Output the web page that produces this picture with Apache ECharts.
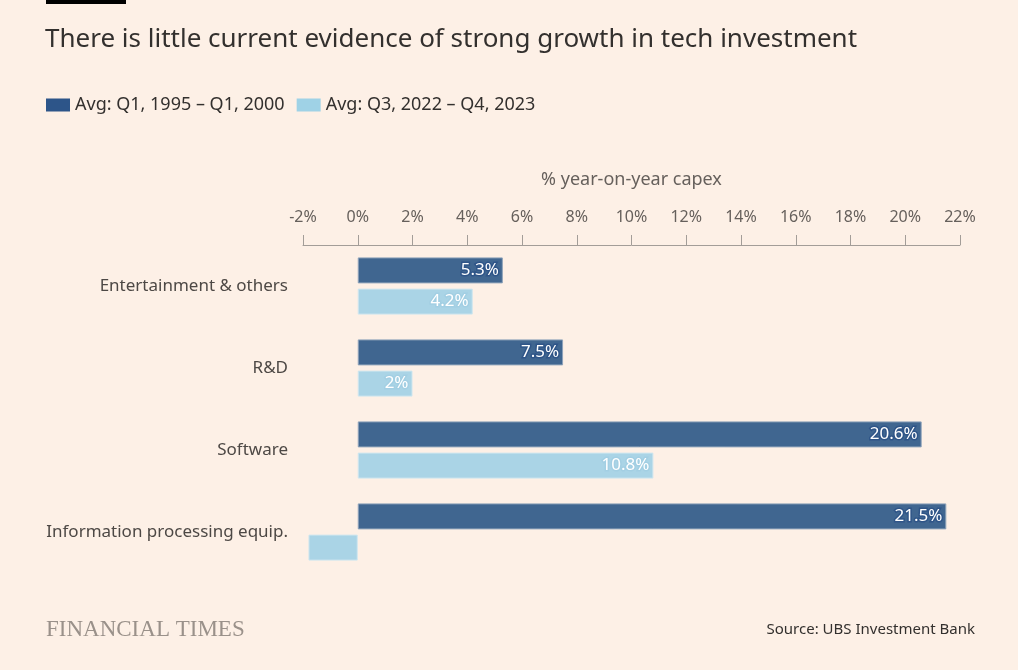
<!DOCTYPE html>
<html>
<head>
<meta charset="utf-8">
<script src="https://cdn.jsdelivr.net/npm/echarts@6/dist/echarts.min.js"></script>
<style>
html,body{margin:0;padding:0;background:#fdf0e6;}
#c{width:1018px;height:670px;}
</style>
</head>
<body>
<div id="c"></div>
<script>
const categories = ['Entertainment & others', 'R&D', 'Software', 'Information processing equip.'];
const seriesNames = ['Avg: Q1, 1995 – Q1, 2000', 'Avg: Q3, 2022 – Q4, 2023'];
const avg1995 = [5.3, 7.5, 20.6, 21.5];
const avg2022 = [4.2, 2, 10.8, -1.8];
const tickMin = -2, tickMax = 22, tickStep = 2;

const FONT = '"Noto Sans", "Open Sans", sans-serif';
const chart = echarts.init(document.getElementById('c'));

function labelCfg(halo, showFn) {
  return {
    show: true,
    position: 'insideRight',
    distance: 4,
    color: '#ffffff',
    fontFamily: FONT,
    fontSize: 17,
    textBorderColor: halo,
    textBorderWidth: 3,
    formatter: p => (showFn(p.value) ? p.value + '%' : '')
  };
}

chart.setOption({
  backgroundColor: '#fdf0e6',
  animation: false,
  title: {
    text: 'There is little current evidence of strong growth in tech investment',
    left: 45, top: 27, padding: 0,
    textStyle: { fontFamily: FONT, fontSize: 26, fontWeight: 'normal', color: '#33302e' }
  },
  legend: {
    left: 46, top: 96, padding: 0,
    itemWidth: 24, itemHeight: 13, itemGap: 12,
    icon: 'rect',
    itemStyle: { borderWidth: 0 },
    textStyle: { fontFamily: FONT, fontSize: 18, color: '#33302e' },
    data: [
      { name: seriesNames[0], itemStyle: { color: '#2d5589', borderWidth: 0 } },
      { name: seriesNames[1], itemStyle: { color: '#9fd2e6', borderWidth: 0 } }
    ]
  },
  graphic: [
    { type: 'rect', left: 46, top: 0, shape: { width: 80, height: 4 }, style: { fill: '#000' } },
    { type: 'text', left: 46, top: 618, style: { text: 'FINANCIAL TIMES', font: '23px "Liberation Serif", serif', fill: '#9a918a' } },
    { type: 'text', right: 43, top: 622, style: { text: 'Source: UBS Investment Bank', font: '15px ' + FONT, fill: '#33302e' } }
  ],
  grid: { left: 303, right: 58, top: 245, height: 328, containLabel: false },
  xAxis: {
    type: 'value',
    position: 'top',
    min: tickMin, max: tickMax, interval: tickStep,
    name: '% year-on-year capex',
    nameLocation: 'middle',
    nameGap: 56,
    nameTextStyle: { fontFamily: FONT, fontSize: 18, color: '#66605c' },
    axisLine: { show: true, lineStyle: { color: '#a39d98', width: 1 } },
    axisTick: { show: true, length: 10, lineStyle: { color: '#a39d98' } },
    axisLabel: { fontFamily: FONT, fontSize: 16, color: '#66605c', margin: 20, formatter: v => v + '%' },
    splitLine: { show: false }
  },
  yAxis: {
    type: 'category',
    data: categories,
    inverse: true,
    axisLine: { show: false },
    axisTick: { show: false },
    axisLabel: { fontFamily: FONT, fontSize: 17, color: '#4d4845', margin: 15 }
  },
  series: [
    {
      name: seriesNames[0],
      type: 'bar',
      data: avg1995,
      barWidth: 26,
      barGap: '20%',
      itemStyle: { color: '#406690', borderColor: '#8ea3ba', borderWidth: 1 },
      label: labelCfg('#2f5588', v => v > 1.5)
    },
    {
      name: seriesNames[1],
      type: 'bar',
      data: avg2022,
      barWidth: 26,
      itemStyle: { color: '#aad4e6', borderColor: '#cfe6ef', borderWidth: 1 },
      label: labelCfg('#a3cfe3', v => v > 1.5)
    }
  ]
});
</script>
</body>
</html>
